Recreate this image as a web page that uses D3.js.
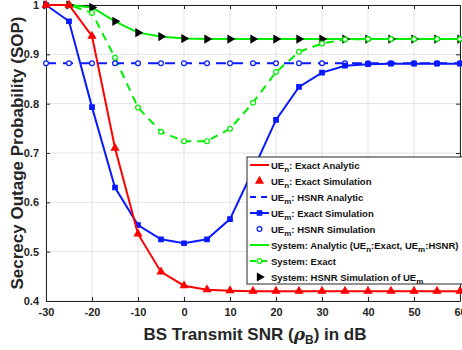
<!DOCTYPE html>
<html>
<head>
<meta charset="utf-8">
<script src="https://cdn.jsdelivr.net/npm/d3@7"></script>
<style>
  body { margin: 0; background: #fff; }
  text { font-family: "Liberation Sans", Arial, sans-serif; }
</style>
</head>
<body>
<script>
// data
const snr = [-30, -25, -20, -15, -10, -5, 0, 5, 10, 15, 20, 25, 30, 35, 40, 45, 50, 55, 60];
const uenExact = [1.0, 1.0, 0.937, 0.71, 0.536, 0.459, 0.431, 0.423, 0.421, 0.42, 0.42, 0.42, 0.42, 0.42, 0.42, 0.42, 0.42, 0.42, 0.42];
const uemExactSim = [1.0, 0.967, 0.793, 0.63, 0.554, 0.525, 0.517, 0.525, 0.566, 0.665, 0.767, 0.834, 0.863, 0.877, 0.88, 0.881, 0.881, 0.881, 0.881];
const uemHsnr = [0.882, 0.882, 0.882, 0.882, 0.882, 0.882, 0.882, 0.882, 0.882, 0.882, 0.882, 0.882, 0.882, 0.882, 0.882, 0.882, 0.882, 0.882, 0.882];
const sysAnalytic = [1.0, 1.0, 0.995, 0.967, 0.944, 0.936, 0.932, 0.931, 0.931, 0.931, 0.931, 0.931, 0.931, 0.931, 0.931, 0.931, 0.931, 0.931, 0.931];
const sysExact = [1.0, 1.0, 0.984, 0.893, 0.792, 0.743, 0.724, 0.724, 0.749, 0.802, 0.864, 0.905, 0.922, 0.93, 0.931, 0.931, 0.931, 0.931, 0.931];
const xTicks = [-30, -20, -10, 0, 10, 20, 30, 40, 50, 60];
const yTicks = [0.4, 0.5, 0.6, 0.7, 0.8, 0.9, 1];

const W = 462, H = 350;
const m = { left: 46, right: 2, top: 5, bottom: 49 };

const svg = d3.select("body").append("svg")
  .attr("width", W)
  .attr("height", H);

const x = d3.scaleLinear().domain([-30, 60]).range([m.left, W - m.right]);
const y = d3.scaleLinear().domain([0.4, 1]).range([H - m.bottom, m.top]);

// grid
svg.append("g").selectAll("line.gx").data(xTicks).enter().append("line")
  .attr("x1", d => x(d)).attr("x2", d => x(d))
  .attr("y1", y(0.4)).attr("y2", y(1))
  .attr("stroke", "#e3e3e3").attr("stroke-width", 1);
svg.append("g").selectAll("line.gy").data(yTicks).enter().append("line")
  .attr("x1", x(-30)).attr("x2", x(60))
  .attr("y1", d => y(d)).attr("y2", d => y(d))
  .attr("stroke", "#e3e3e3").attr("stroke-width", 1);

// axes, MATLAB style: ticks inside, box on
const axB = svg.append("g").attr("transform", `translate(0,${y(0.4)})`)
  .call(d3.axisBottom(x).tickValues(xTicks).tickFormat(d => String(d)).tickSizeInner(-4).tickSizeOuter(0).tickPadding(7));
const axL = svg.append("g").attr("transform", `translate(${x(-30)},0)`)
  .call(d3.axisLeft(y).tickValues(yTicks).tickFormat(d => String(d)).tickSizeInner(-4).tickSizeOuter(0).tickPadding(7));
const axT = svg.append("g").attr("transform", `translate(0,${y(1)})`)
  .call(d3.axisTop(x).tickValues(xTicks).tickSizeInner(-4).tickSizeOuter(0).tickFormat(""));
const axR = svg.append("g").attr("transform", `translate(${x(60)},0)`)
  .call(d3.axisRight(y).tickValues(yTicks).tickSizeInner(-4).tickSizeOuter(0).tickFormat(""));
[axB, axL, axT, axR].forEach(a => {
  a.selectAll("path").attr("stroke", "#262626").attr("stroke-width", 1);
  a.selectAll("line").attr("stroke", "#262626");
  a.selectAll("text").attr("font-size", 11).attr("font-weight", "bold")
    .attr("fill", "#262626").style("font-family", "Liberation Sans, Arial, sans-serif");
});

const line = d3.line().x((d, i) => x(snr[i])).y(d => y(d));
const plot = svg.append("g");

function drawLine(vals, color, dash, w) {
  plot.append("path").datum(vals)
    .attr("d", line)
    .attr("fill", "none")
    .attr("stroke", color)
    .attr("stroke-width", w || 2)
    .attr("stroke-dasharray", dash || null);
}
function drawMarks(vals, shape, size, fill, stroke, rot) {
  plot.append("g").selectAll("path").data(vals).enter().append("path")
    .attr("d", d3.symbol().type(shape).size(size))
    .attr("transform", (d, i) => `translate(${x(snr[i])},${y(d)}) rotate(${rot || 0})`)
    .attr("fill", fill)
    .attr("stroke", stroke)
    .attr("stroke-width", 1.2);
}

// system analytic + HSNR sim
drawLine(sysAnalytic, "#00ee00", null, 2);
drawMarks(sysAnalytic, d3.symbolTriangle, 22, "#000", "#000", 90);
// system exact
drawLine(sysExact, "#00ee00", "8,6", 2);
drawMarks(sysExact, d3.symbolCircle, 18, "#fff", "#00ee00");
// UEm HSNR
drawLine(uemHsnr, "#0a1aff", "10,7", 2);
drawMarks(uemHsnr, d3.symbolCircle, 18, "#fff", "#0a1aff");
// UEm exact sim
drawLine(uemExactSim, "#0a1aff", null, 2);
drawMarks(uemExactSim, d3.symbolSquare, 20, "#0a1aff", "#0a1aff");
// UEn exact
drawLine(uenExact, "#ff0000", null, 2);
drawMarks(uenExact, d3.symbolTriangle, 22, "#ff0000", "#ff0000");

// axis labels
svg.append("text")
  .attr("x", (x(-30) + x(60)) / 2 + 2).attr("y", 340)
  .attr("text-anchor", "middle")
  .attr("font-size", 17).attr("font-weight", "bold").attr("fill", "#262626")
  .html('BS Transmit SNR (<tspan font-style="italic" font-family="DejaVu Serif">ρ</tspan><tspan font-size="12" dy="4">B</tspan><tspan dy="-4">) in dB</tspan>');
svg.append("text")
  .attr("transform", `translate(23,${(y(0.4) + y(1)) / 2}) rotate(-90)`)
  .attr("text-anchor", "middle")
  .attr("font-size", 17).attr("font-weight", "bold").attr("fill", "#262626")
  .text("Secrecy Outage Probability (SOP)");

// legend
const legendItems = [
  { pre: "UE", sub: "n", post: ": Exact Analytic", color: "#ff0000", line: "solid" },
  { pre: "UE", sub: "n", post: ": Exact Simulation", color: "#ff0000", mark: "tri" },
  { pre: "UE", sub: "m", post: ": HSNR  Analytic", color: "#0a1aff", line: "dash" },
  { pre: "UE", sub: "m", post: ": Exact Simulation", color: "#0a1aff", line: "solid", mark: "sq" },
  { pre: "UE", sub: "m", post: ": HSNR  Simulation", color: "#0a1aff", mark: "circ" },
  { pre: "System: Analytic (UE", sub: "n", post: ":Exact, UE", sub2: "m", post2: ":HSNR)", color: "#00ee00", line: "solid" },
  { pre: "System: Exact", color: "#00ee00", line: "dash", mark: "circ" },
  { pre: "System: HSNR  Simulation of UE", sub: "m", color: "#000", mark: "rtri" }
];
const lg = svg.append("g").attr("transform", "translate(247,157)");
lg.append("rect").attr("width", 216).attr("height", 127)
  .attr("fill", "#fff").attr("stroke", "#262626").attr("stroke-width", 1);
legendItems.forEach((it, i) => {
  const g = lg.append("g").attr("transform", `translate(0,${8 + i * 16})`);
  if (it.line) {
    g.append("line").attr("x1", 3).attr("x2", 22).attr("y1", 0).attr("y2", 0)
      .attr("stroke", it.color).attr("stroke-width", 2)
      .attr("stroke-dasharray", it.line === "dash" ? "6,5" : null);
  }
  if (it.mark) {
    const shapes = { tri: d3.symbolTriangle, rtri: d3.symbolTriangle, sq: d3.symbolSquare, circ: d3.symbolCircle };
    const sizes = { tri: 22, rtri: 22, sq: 20, circ: 18 };
    g.append("path").attr("d", d3.symbol().type(shapes[it.mark]).size(sizes[it.mark]))
      .attr("transform", `translate(12.5,0) rotate(${it.mark === "rtri" ? 90 : 0})`)
      .attr("fill", it.mark === "circ" ? "#fff" : it.color)
      .attr("stroke", it.color).attr("stroke-width", 1.2);
  }
  const t = g.append("text").attr("x", 24).attr("y", 4)
    .attr("font-size", 9.5).attr("font-weight", "bold").attr("fill", "#111");
  t.append("tspan").text(it.pre);
  if (it.sub) t.append("tspan").attr("dy", 3).attr("font-size", 8).text(it.sub);
  if (it.post) t.append("tspan").attr("dy", -3).text(it.post);
  if (it.sub2) t.append("tspan").attr("dy", 3).attr("font-size", 8).text(it.sub2);
  if (it.post2) t.append("tspan").attr("dy", -3).text(it.post2);
});
</script>
</body>
</html>
